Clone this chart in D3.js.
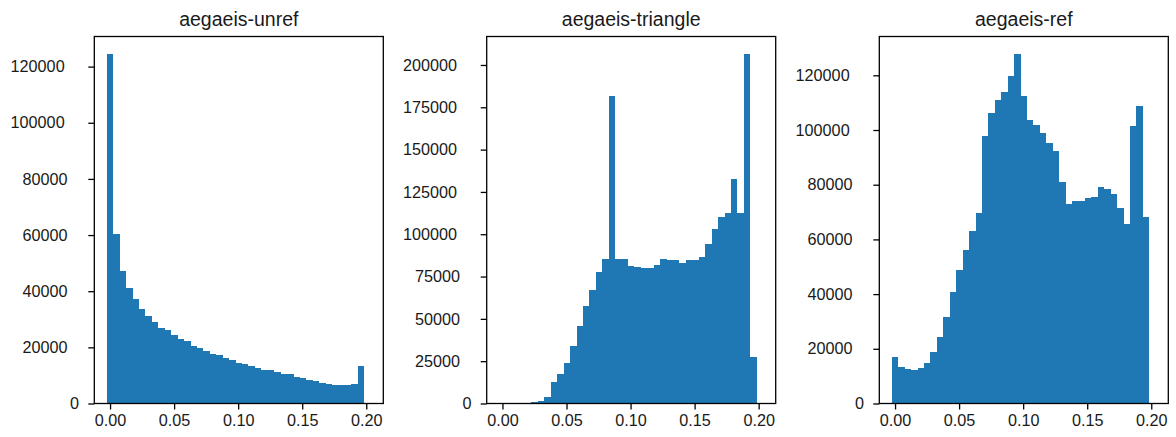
<!DOCTYPE html>
<html lang="en">
<head>
    <meta charset="UTF-8">
    <title>aegaeis histograms</title>
    <script src="https://cdn.jsdelivr.net/npm/d3@7"></script>
    <style>
        body { margin: 0; background: #fff; }
        text { font-family: "Liberation Sans", Arial, sans-serif; fill: #1a1a1a; }
    </style>
</head>
<body>
    <div id="chart"></div>
    <script>
        // data: 40 histogram bins, same edges in every panel
        var binStart = -0.0025;
        var binWidth = 0.005025;
        var titles = ["aegaeis-unref", "aegaeis-triangle", "aegaeis-ref"];
        var unrefCounts = [124500, 60500, 47300, 41000, 37300, 33700, 31200, 28900, 26900, 26200,
                           24400, 23000, 22300, 20500, 19800, 18700, 17700, 17400, 16200, 15500,
                           14600, 13900, 13200, 12700, 11900, 11900, 11300, 10600, 10600, 9500,
                           9200, 8500, 8000, 7400, 6900, 6500, 6500, 6500, 6900, 13400];
        var triangleCounts = [0, 0, 0, 0, 300, 800, 1500, 3800, 12600, 17300,
                              23800, 33900, 45900, 57500, 66900, 77600, 85500, 181700, 85500, 85500,
                              81300, 80700, 80300, 80300, 82000, 85500, 84500, 84500, 83300, 85000,
                              84500, 86700, 94500, 102800, 109900, 112800, 132800, 112800, 206500, 27600];
        var refCounts = [16900, 13300, 12600, 12200, 13000, 14900, 18800, 24300, 31800, 40800,
                         48700, 56300, 63200, 69800, 97800, 106200, 111000, 113900, 119800, 127800,
                         112400, 103700, 101900, 98900, 95300, 92400, 81000, 73000, 74100, 74100,
                         75200, 75600, 79200, 78500, 76700, 71600, 65700, 101500, 108800, 68300];
        var xTicks = [0, 0.05, 0.10, 0.15, 0.20];
        var yTicks = [
            [0, 20000, 40000, 60000, 80000, 100000, 120000],
            [0, 25000, 50000, 75000, 100000, 125000, 150000, 175000, 200000],
            [0, 20000, 40000, 60000, 80000, 100000, 120000]
        ];
        var allCounts = [unrefCounts, triangleCounts, refCounts];

        var width = 1176, height = 437;
        var panelLeft = [94.3, 486.7, 879.3];
        var panelW = 289, panelTop = 36.5, panelH = 367;

        var svg = d3.select("#chart").append("svg")
                .attr("width", width).attr("height", height);

        allCounts.forEach(function(counts, p) {
            var g = svg.append("g")
                    .attr("transform", "translate(" + panelLeft[p] + "," + panelTop + ")");

            var xScale = d3.scaleLinear().domain([-0.0123, 0.2133]).range([0, panelW]);
            var yScale = d3.scaleLinear().domain([0, d3.max(counts) * 1.05]).range([panelH, 0]);

            // bars (crisp edges so neighbouring bins don't show seams)
            g.selectAll("rect").data(counts).enter().append("rect")
                    .attr("fill", "#1f77b4")
                    .attr("shape-rendering", "crispEdges")
                    .attr("x", function(d, i) { return xScale(binStart + i * binWidth); })
                    .attr("width", function(d, i) {
                        return xScale(binStart + (i + 1) * binWidth) - xScale(binStart + i * binWidth);
                    })
                    .attr("y", function(d) { return yScale(d); })
                    .attr("height", function(d) { return panelH - yScale(d); });

            // x axis
            var xAxis = d3.axisBottom(xScale).tickValues(xTicks)
                    .tickFormat(d3.format(".2f")).tickSize(6).tickPadding(5);
            var gx = g.append("g").attr("transform", "translate(0," + panelH + ")").call(xAxis);
            gx.select(".domain").remove();
            gx.selectAll("text").style("font-size", "16.2px");

            // y axis
            var yAxis = d3.axisLeft(yScale).tickValues(yTicks[p])
                    .tickFormat(d3.format("d")).tickSize(6);
            var gy = g.append("g").call(yAxis);
            gy.select(".domain").remove();
            // labels sit a bit further left the longer they are (as in the original)
            gy.selectAll("text")
                    .style("font-size", "16.2px")
                    .attr("text-anchor", "start")
                    .attr("x", function(d) { return -(12.3 + 11.9 * String(d).length); });

            g.selectAll(".tick line").attr("stroke", "#000").attr("stroke-width", 1.3);

            // frame
            g.append("rect")
                    .attr("width", panelW).attr("height", panelH)
                    .attr("fill", "none").attr("stroke", "#000").attr("stroke-width", 1.3);

            // title
            g.append("text")
                    .attr("x", panelW / 2).attr("y", -10.5)
                    .attr("text-anchor", "middle")
                    .style("font-size", "19.5px")
                    .text(titles[p]);
        });
    </script>
</body>
</html>
